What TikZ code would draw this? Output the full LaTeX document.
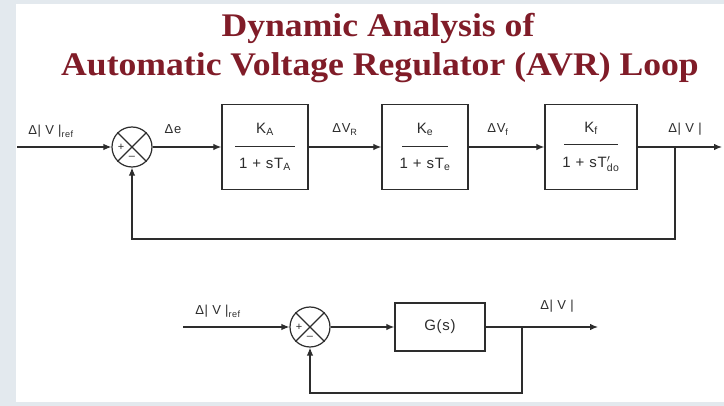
\documentclass[tikz,border=0pt]{standalone}
\usepackage{amsmath}
\usepackage{fontspec}
\setmainfont{Liberation Sans}[LetterSpace=5]
\newfontfamily\titlefont{Liberation Serif}[FakeStretch=1.08]
\usetikzlibrary{arrows.meta}

\definecolor{titlered}{RGB}{128,28,40}
\definecolor{pagegrey}{RGB}{227,233,238}
\definecolor{inkgrey}{RGB}{45,45,45}

% numerator over a bar over denominator
\newcommand{\blockfrac}[3][60pt]{#2\\\rule[4.5pt]{#1}{1pt}\\#3}

\begin{document}
\begin{tikzpicture}[x=1pt,y=-1pt,>={Latex[length=8pt,width=6.5pt]},
  wire/.style={draw=inkgrey,line width=1.2pt},
  sumnode/.style={circle,draw=inkgrey,line width=1.2pt,minimum size=40pt,inner sep=0pt},
  blockbox/.style={draw=inkgrey,line width=1.3pt,minimum width=86pt,minimum height=85pt,
    inner sep=0pt,align=center,text=inkgrey,font=\fontsize{15}{17.5}\selectfont},
  sig/.style={text=inkgrey,anchor=base,font=\fontsize{13}{15}\selectfont},
  sign/.style={text=inkgrey,inner sep=0pt,font=\fontsize{11}{11}\selectfont},
  headline/.style={text=titlered,anchor=base,font=\titlefont\bfseries\fontsize{33}{36}\selectfont}]
\path[use as bounding box,fill=pagegrey] (0,0) rectangle (724,406);
\fill[white] (16,4) rectangle (724,402);

% title
\node[headline] (titleA) at (378,37) {Dynamic Analysis of};
\node[headline] (titleB) at (380,76) {Automatic Voltage Regulator (AVR) Loop};

% AVR loop
\coordinate (refA) at (17,147);
\node[sumnode] (sumA) at (132,147) {};
\draw[wire] (sumA.north west) -- (sumA.south east) (sumA.north east) -- (sumA.south west);
\node[sign] at ([xshift=-11pt]sumA.center) {+};
\node[sign] at ([yshift=-11pt]sumA.center) {--};

\node[blockbox] (amplifier) at (265,147) {\blockfrac{K\textsubscript{A}}{1 + sT\textsubscript{A}}};
\node[blockbox] (exciter) at (425,147) {\blockfrac[46pt]{K\textsubscript{e}}{1 + sT\textsubscript{e}}};
\node[blockbox,minimum width=92pt] (generator) at (591,147)
  {\blockfrac[54pt]{K\textsubscript{f}}{1 + sT$'_{\text{do}}$}};

\coordinate (tapA) at (675,147);
\coordinate (outA) at (722,147);
\coordinate (fbA) at (675,239);

\draw[wire,->] (refA) -- (sumA);
\draw[wire,->] (sumA) -- (amplifier);
\draw[wire,->] (amplifier) -- (exciter);
\draw[wire,->] (exciter) -- (generator);
\draw[wire,->] (generator) -- (outA);
\draw[wire,->] (tapA) -- (fbA) -| (sumA.south);

\node[sig] (refAlabel) at (51,135) {Δ| V |\textsubscript{ref}};
\node[sig] (errA) at (173,134) {Δe};
\node[sig] (vrA) at (345,133) {ΔV\textsubscript{R}};
\node[sig] (vfA) at (498,133) {ΔV\textsubscript{f}};
\node[sig] (vtA) at (685,133) {Δ| V |};

% reduced loop
\coordinate (refB) at (183,327);
\node[sumnode] (sumB) at (310,327) {};
\draw[wire] (sumB.north west) -- (sumB.south east) (sumB.north east) -- (sumB.south west);
\node[sign] at ([xshift=-11pt]sumB.center) {+};
\node[sign] at ([yshift=-11pt]sumB.center) {--};

\node[blockbox,minimum width=90pt,minimum height=48pt] (plant) at (440,327) {G(s)};

\coordinate (tapB) at (522,327);
\coordinate (outB) at (598,327);
\coordinate (fbB) at (522,393);

\draw[wire,->] (refB) -- (sumB);
\draw[wire,->] (sumB) -- (plant);
\draw[wire,->] (plant) -- (outB);
\draw[wire,->] (tapB) -- (fbB) -| (sumB.south);

\node[sig] (refBlabel) at (218,315) {Δ| V |\textsubscript{ref}};
\node[sig] (vtB) at (557,310) {Δ| V |};
\end{tikzpicture}
\end{document}
